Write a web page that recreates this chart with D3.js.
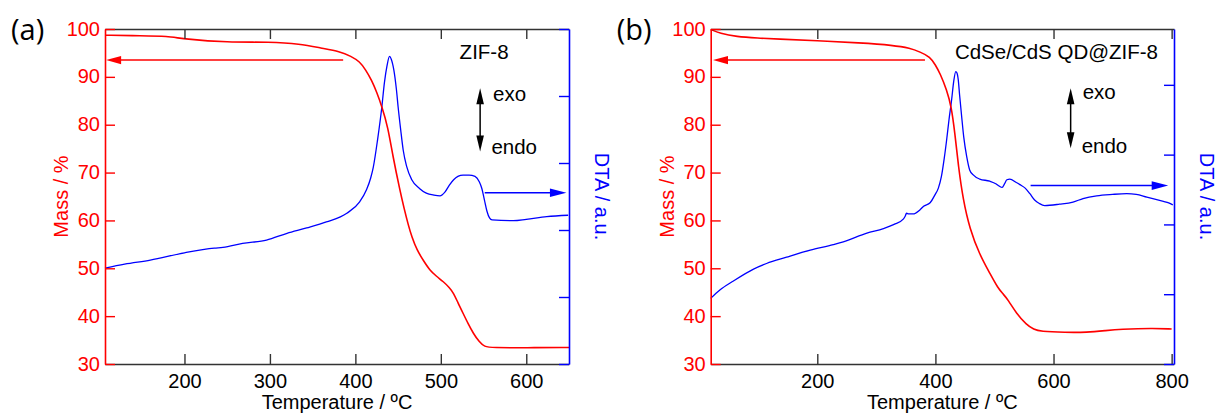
<!DOCTYPE html>
<html>
<head>
<meta charset="utf-8">
<script src="https://cdn.jsdelivr.net/npm/d3@7"></script>
<style>
  body { margin: 0; background: #fff; }
  svg { display: block; font-family: "Liberation Sans", Arial, sans-serif; }
</style>
</head>
<body>
<svg id="chart"></svg>
<script>
const WIDTH = 1218;
const HEIGHT = 414;
const TOP = 29;     // y of mass 100
const BOTTOM = 364; // y of mass 30
const TICK = 10;    // inward tick length

const RED = '#ff0000';
const BLUE = '#0000ff';
const FRAME = '#333';

// Panel (a): ZIF-8
const massTempA = [107, 150, 180, 200, 250, 300, 335, 360, 382, 395, 405, 412, 419, 425, 431,
  438, 444, 452, 457, 462, 466, 472, 480, 487, 495, 503, 510, 515, 520, 526, 532, 538, 545,
  551, 560, 600, 650];
const massA = [98.7, 98.6, 98.5, 97.9, 97.2, 97.3, 96.9, 96.0, 95.3, 94.3, 93.2, 91.5, 89.3, 86.8, 83.8,
  79.6, 73.3, 66.4, 62.5, 59.0, 56.6, 53.8, 51.5, 49.6, 48.3, 47.2, 46.0, 44.8, 42.8, 40.6, 38.4, 36.4, 34.6,
  33.6, 33.4, 33.4, 33.45];

const dtaTempA = [107, 130, 160, 200, 235, 245, 268, 296, 320, 343, 366, 390, 405, 413, 418, 421, 426,
  431, 434, 437, 440, 442, 445, 448, 450, 453, 456, 460, 466, 475, 483, 492, 499, 505, 510, 515, 520,
  526, 533, 540, 545, 548, 551, 554, 557, 560, 585, 600, 624, 649];
const dtaA = [1.43, 1.49, 1.55, 1.66, 1.73, 1.74, 1.80, 1.85, 1.95, 2.03, 2.12, 2.25, 2.42, 2.60, 2.78, 2.94, 3.35,
  3.84, 4.20, 4.45, 4.59, 4.55, 4.39, 4.10, 3.84, 3.50, 3.19, 2.95, 2.75, 2.62, 2.55, 2.52, 2.51, 2.57, 2.67, 2.75, 2.80,
  2.82, 2.82, 2.80, 2.72, 2.62, 2.45, 2.28, 2.18, 2.15, 2.14, 2.16, 2.20, 2.22];

// Panel (b): CdSe/CdS QD@ZIF-8
const massTempB = [19.5, 35, 63, 100, 131, 199, 272, 329, 357, 374, 391, 400, 408, 419, 427, 433,
  439, 447, 458, 475, 492, 506, 515, 523, 537, 554, 567, 577, 620, 656, 690, 712, 769, 800];
const massB = [99.9, 99.1, 98.4, 98.1, 97.9, 97.55, 97.1, 96.6, 96.0, 95.2, 94.2, 92.5, 90.7, 87.3, 83.8, 78.2,
  71.2, 64.3, 58.3, 52.8, 49.0, 45.8, 44.6, 43.4, 40.6, 38.2, 37.2, 36.8, 36.6, 36.6, 37.0, 37.25, 37.5, 37.3];

const dtaTempB = [19.5, 35, 58, 92, 114, 148, 188, 227, 244, 284, 312, 330, 346, 349, 351, 355, 362, 374,
  380, 391, 399, 405, 410, 415, 419, 423, 427.5, 431, 434.5, 436.5, 438.7, 441, 444.4, 448, 453, 458, 464,
  475, 492, 503, 508, 513, 517, 521, 526, 537, 543, 552, 560, 568, 576, 585, 610, 633, 650, 673, 700, 724,
  740, 758, 786, 795, 802];
const dtaB = [0.94, 1.06, 1.19, 1.36, 1.44, 1.53, 1.63, 1.71, 1.75, 1.875, 1.94, 2.0, 2.08, 2.12, 2.16, 2.15, 2.15, 2.21,
  2.26, 2.31, 2.42, 2.52, 2.68, 2.95, 3.21, 3.50, 3.79, 4.05, 4.19, 4.17, 4.07, 3.85, 3.55, 3.25, 2.97, 2.78, 2.71,
  2.65, 2.62, 2.58, 2.55, 2.53, 2.58, 2.64, 2.65, 2.60, 2.57, 2.52, 2.44, 2.35, 2.30, 2.27, 2.29, 2.32, 2.37, 2.41, 2.43, 2.44,
  2.43, 2.39, 2.33, 2.31, 2.28];

// Tick values
const massTicks = [30, 40, 50, 60, 70, 80, 90, 100];
const tempTicksA = [200, 300, 400, 500, 600];
const tempTicksB = [200, 400, 600, 800];
const dtaTicksA = [0, 1, 2, 3, 4, 5];
const dtaTicksB = [0, 1, 2, 3, 4];

const panels = [
  {
    tag: '(a)', sample: 'ZIF-8',
    left: 105, right: 569,
    tempDomain: [107, 650], dtaDomain: [0, 5],
    tempTicks: tempTicksA, dtaTicks: dtaTicksA,
    massTemp: massTempA, mass: massA, dtaTemp: dtaTempA, dta: dtaA,
    // annotations in data units
    massArrow: {from: 385.7, to: 108.3, mass: 93.5},
    dtaArrow: {from: 551.4, to: 647, dta: 2.557},
    exoEndo: {temp: 546, top: 87.6, bottom: 74.4},
    sampleAt: {temp: 522, mass: 93.7},
    exoAt: {temp: 561.2, mass: 85.0},
    endoAt: {temp: 559.2, mass: 73.8}
  },
  {
    tag: '(b)', sample: 'CdSe/CdS QD@ZIF-8',
    left: 710.7, right: 1174,
    tempDomain: [19.5, 804], dtaDomain: [0, 4.8],
    tempTicks: tempTicksB, dtaTicks: dtaTicksB,
    massTemp: massTempB, mass: massB, dtaTemp: dtaTempB, dta: dtaB,
    massArrow: {from: 382.3, to: 23.4, mass: 93.5},
    dtaArrow: {from: 561.2, to: 794.2, dta: 2.556},
    exoEndo: {temp: 629, top: 87.6, bottom: 75.1},
    sampleAt: {temp: 433, mass: 93.8},
    exoAt: {temp: 649.3, mass: 85.3},
    endoAt: {temp: 647.6, mass: 74.0}
  }
];

const svg = d3.select('#chart').attr('width', WIDTH).attr('height', HEIGHT);

function arrowHead(g, tipX, tipY, dx, dy, len, half, color) {
  // dx, dy: unit direction of the arrow
  const bx = tipX - dx * len, by = tipY - dy * len;
  const px = -dy * half, py = dx * half;
  g.append('path')
    .attr('d', `M${tipX},${tipY}L${bx + px},${by + py}L${bx - px},${by - py}Z`)
    .attr('fill', color);
}

function styleAxis(sel, color) {
  sel.attr('font-family', null).attr('font-size', 20);
  sel.select('.domain').attr('stroke', color).attr('stroke-width', 1.6);
  sel.selectAll('.tick line').attr('stroke', color).attr('stroke-width', 1.4);
  sel.selectAll('.tick text').attr('fill', color);
}

function drawPanel(p) {
  const g = svg.append('g');
  const x = d3.scaleLinear().domain(p.tempDomain).range([p.left, p.right]);
  const yMass = d3.scaleLinear().domain([30, 100]).range([BOTTOM, TOP]);
  const yDta = d3.scaleLinear().domain(p.dtaDomain).range([BOTTOM, TOP]);

  // curves
  const massLine = d3.line()
    .x((d, i) => x(p.massTemp[i]))
    .y(d => yMass(d))
    .curve(d3.curveBasis);
  const dtaLine = d3.line()
    .x((d, i) => x(p.dtaTemp[i]))
    .y(d => yDta(d))
    .curve(d3.curveMonotoneX);

  g.append('path').datum(p.dta).attr('d', dtaLine)
    .attr('fill', 'none').attr('stroke', BLUE).attr('stroke-width', 1.3);
  g.append('path').datum(p.mass).attr('d', massLine)
    .attr('fill', 'none').attr('stroke', RED).attr('stroke-width', 1.6);

  // axes
  const bottom = g.append('g').attr('transform', `translate(0,${BOTTOM})`)
    .call(d3.axisBottom(x).tickValues(p.tempTicks).tickSizeInner(-TICK).tickSizeOuter(0).tickPadding(10));
  styleAxis(bottom, FRAME);
  bottom.selectAll('.tick text').attr('fill', '#000');

  const top = g.append('g').attr('transform', `translate(0,${TOP})`)
    .call(d3.axisTop(x).tickValues(p.tempTicks).tickSizeInner(-TICK).tickSizeOuter(0).tickFormat(''));
  styleAxis(top, FRAME);

  const right = g.append('g').attr('transform', `translate(${p.right},0)`)
    .call(d3.axisRight(yDta).tickValues(p.dtaTicks).tickSizeInner(-TICK).tickSizeOuter(0).tickFormat(''));
  styleAxis(right, BLUE);

  const left = g.append('g').attr('transform', `translate(${p.left},0)`)
    .call(d3.axisLeft(yMass).tickValues(massTicks).tickSizeInner(-TICK).tickSizeOuter(0).tickPadding(5));
  styleAxis(left, RED);
  left.selectAll('.tick text').attr('dy', '0.3em');

  // axis titles
  const midY = (TOP + BOTTOM) / 2;
  g.append('text')
    .attr('transform', `translate(${p.left - 37},${midY}) rotate(-90)`)
    .attr('text-anchor', 'middle').attr('font-size', 20).attr('fill', RED)
    .text('Mass / %');
  g.append('text')
    .attr('transform', `translate(${p.right + 26},${midY}) rotate(90)`)
    .attr('text-anchor', 'middle').attr('font-size', 20).attr('fill', BLUE)
    .text('DTA / a.u.');
  g.append('text')
    .attr('x', (p.left + p.right) / 2).attr('y', 409)
    .attr('text-anchor', 'middle').attr('font-size', 20).attr('fill', '#000')
    .text('Temperature / ºC');

  // panel tag
  g.append('text')
    .attr('x', p.left - 94).attr('y', 40)
    .attr('font-family', '"Open Sans", sans-serif').attr('font-size', 29).attr('fill', '#000')
    .text(p.tag);

  // sample name, exo / endo
  g.append('text')
    .attr('x', x(p.sampleAt.temp)).attr('y', yMass(p.sampleAt.mass))
    .attr('font-size', 20.5).attr('fill', '#000').text(p.sample);
  g.append('text')
    .attr('x', x(p.exoAt.temp)).attr('y', yMass(p.exoAt.mass))
    .attr('font-size', 20.5).attr('fill', '#000').text('exo');
  g.append('text')
    .attr('x', x(p.endoAt.temp)).attr('y', yMass(p.endoAt.mass))
    .attr('font-size', 20.5).attr('fill', '#000').text('endo');

  // mass arrow (points left)
  const ma = p.massArrow;
  g.append('line')
    .attr('x1', x(ma.from)).attr('x2', x(ma.to) + 10)
    .attr('y1', yMass(ma.mass)).attr('y2', yMass(ma.mass))
    .attr('stroke', RED).attr('stroke-width', 1.5);
  arrowHead(g, x(ma.to), yMass(ma.mass), -1, 0, 15, 4.2, RED);

  // DTA arrow (points right)
  const da = p.dtaArrow;
  g.append('line')
    .attr('x1', x(da.from)).attr('x2', x(da.to) - 10)
    .attr('y1', yDta(da.dta)).attr('y2', yDta(da.dta))
    .attr('stroke', BLUE).attr('stroke-width', 1.5);
  arrowHead(g, x(da.to), yDta(da.dta), 1, 0, 16.5, 4.3, BLUE);

  // exo / endo double arrow
  const ee = p.exoEndo;
  const ex = x(ee.temp);
  g.append('line')
    .attr('x1', ex).attr('x2', ex)
    .attr('y1', yMass(ee.top) + 8).attr('y2', yMass(ee.bottom) - 8)
    .attr('stroke', '#000').attr('stroke-width', 1.5);
  arrowHead(g, ex, yMass(ee.top), 0, -1, 16, 3.8, '#000');
  arrowHead(g, ex, yMass(ee.bottom), 0, 1, 16, 3.8, '#000');
}

panels.forEach(drawPanel);
</script>
</body>
</html>
